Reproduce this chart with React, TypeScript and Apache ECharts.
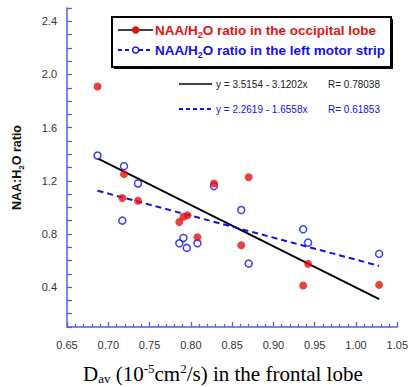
import React, { useEffect, useRef } from "react";
import * as echarts from "echarts";

// D_av (frontal lobe) vs NAA/H2O ratio
const occipitalX = [0.687, 0.719, 0.717, 0.736, 0.786, 0.791, 0.796, 0.808, 0.828, 0.870, 0.861, 0.942, 0.936, 1.028];
const occipitalY = [1.91, 1.25, 1.07, 1.05, 0.89, 0.93, 0.94, 0.775, 1.18, 1.227, 0.715, 0.575, 0.412, 0.417];
const motorX = [0.687, 0.719, 0.736, 0.717, 0.786, 0.791, 0.795, 0.808, 0.828, 0.861, 0.870, 0.936, 0.942, 1.028];
const motorY = [1.39, 1.31, 1.18, 0.90, 0.73, 0.77, 0.695, 0.73, 1.16, 0.98, 0.577, 0.835, 0.735, 0.65];
// regression line end points
const fitOccX = [0.687, 1.028];
const fitOccY = [1.368, 0.31];
const fitMotX = [0.687, 1.028];
const fitMotY = [1.125, 0.56];

const legendLabels = ["NAA/H|2|O ratio in the occipital lobe", "NAA/H|2|O ratio in the left motor strip"];
const eqTexts = ["y = 3.5154 - 3.1202x", "y = 2.2619 - 1.6558x"];
const rTexts = ["R= 0.78038", "R= 0.61853"];

const RED = "#e51212";
const BLUE = "#1212e6";
const AXIS = "#5b5be8";

const pairs = (xs: number[], ys: number[]) => xs.map((x, i) => [x, ys[i]]);

function richLabel(s: string) {
  const [a, b, c] = s.split("|");
  return `{n|${a}}{s|${b}}{n|${c}}`;
}

export default function App() {
  const ref = useRef<HTMLDivElement>(null);
  useEffect(() => {
    document.body.style.margin = "0";
    const chart = echarts.init(ref.current!, null, { renderer: "svg" });
    const legendFont = (color: string) => ({
      n: { fontFamily: "Arial, 'Liberation Sans'", fontWeight: "bold", fontSize: 13.5, fill: color, color },
      s: { fontFamily: "Arial, 'Liberation Sans'", fontWeight: "bold", fontSize: 9, fill: color, color, padding: [9, 0, 0, 0] },
    });
    chart.setOption({
      animation: false,
      grid: { left: 67, right: 8, top: 8, bottom: 60 },
      xAxis: {
        type: "value",
        min: 0.65,
        max: 1.05,
        interval: 0.05,
        axisLine: { lineStyle: { color: AXIS, width: 1.5 } },
        axisTick: { inside: true, length: 5, lineStyle: { color: AXIS, width: 1.3 } },
        minorTick: { show: true, splitNumber: 5, length: 3, lineStyle: { color: AXIS, width: 1.2 } },
        splitLine: { show: false },
        axisLabel: {
          formatter: (v: number) => v.toFixed(2),
          fontFamily: "Arial, 'Liberation Sans'",
          fontSize: 11,
          color: "#333",
          margin: 12,
        },
      },
      yAxis: {
        type: "value",
        min: 0.1,
        max: 2.5,
        interval: 0.1,
        name: "{n|NAA:H}{s|2}{n|O ratio}",
        nameLocation: "middle",
        nameRotate: 90,
        nameGap: 42,
        nameTextStyle: {
          rich: {
            n: { fontFamily: "Arial, 'Liberation Sans'", fontWeight: "bold", fontSize: 12.5, color: "#111" },
            s: { fontFamily: "Arial, 'Liberation Sans'", fontWeight: "bold", fontSize: 8, color: "#111", padding: [8, 0, 0, 0] },
          },
        },
        axisLine: { show: true, lineStyle: { color: AXIS, width: 1.5 } },
        axisTick: { inside: true, length: 5, lineStyle: { color: AXIS, width: 1.3 } },
        splitLine: { show: false },
        axisLabel: {
          formatter: (v: number) => {
            const k = Math.round(v * 10);
            return k % 4 === 0 ? (k / 10).toFixed(1) : "";
          },
          fontFamily: "Arial, 'Liberation Sans'",
          fontSize: 11,
          color: "#333",
          margin: 10,
        },
      },
      series: [
        {
          type: "line",
          data: pairs(fitOccX, fitOccY),
          showSymbol: false,
          lineStyle: { color: "#000", width: 2 },
          z: 2,
        },
        {
          type: "line",
          data: pairs(fitMotX, fitMotY),
          showSymbol: false,
          lineStyle: { color: BLUE, width: 2, type: [6, 4] },
          z: 2,
        },
        {
          type: "scatter",
          data: pairs(motorX, motorY),
          symbol: "circle",
          symbolSize: 7,
          itemStyle: { color: "#fff", borderColor: BLUE, borderWidth: 1.5 },
          z: 3,
        },
        {
          type: "scatter",
          data: pairs(occipitalX, occipitalY),
          symbol: "circle",
          symbolSize: 8,
          itemStyle: { color: RED },
          z: 4,
        },
      ],
      graphic: [
        { type: "rect", shape: { x: 114, y: 19, width: 279, height: 50 }, style: { fill: "#000" }, z: 10 },
        { type: "rect", shape: { x: 112, y: 17, width: 279, height: 50 }, style: { fill: "#fff", stroke: "#000", lineWidth: 2 }, z: 11 },
        { type: "line", shape: { x1: 118, y1: 30, x2: 153, y2: 30 }, style: { stroke: "#000", lineWidth: 1.5 }, z: 12 },
        { type: "circle", shape: { cx: 135.7, cy: 30, r: 3.8 }, style: { fill: RED }, z: 13 },
        { type: "line", shape: { x1: 118, y1: 50, x2: 153, y2: 50 }, style: { stroke: BLUE, lineWidth: 1.8, lineDash: [4, 3] }, z: 12 },
        { type: "circle", shape: { cx: 135.7, cy: 50, r: 3 }, style: { fill: "#fff", stroke: BLUE, lineWidth: 1.5 }, z: 13 },
        {
          type: "text",
          x: 155,
          y: 30,
          style: { text: richLabel(legendLabels[0]), rich: legendFont(RED), textVerticalAlign: "middle", textAlign: "left" },
          z: 13,
        },
        {
          type: "text",
          x: 155,
          y: 50,
          style: { text: richLabel(legendLabels[1]), rich: legendFont(BLUE), textVerticalAlign: "middle", textAlign: "left" },
          z: 13,
        },
        { type: "line", shape: { x1: 179, y1: 84, x2: 212, y2: 84 }, style: { stroke: "#000", lineWidth: 1.5 }, z: 12 },
        {
          type: "text", x: 216, y: 84,
          style: { text: eqTexts[0], font: "10px Arial, 'Liberation Sans'", fill: "#222", textVerticalAlign: "middle" }, z: 12,
        },
        {
          type: "text", x: 328, y: 84,
          style: { text: rTexts[0], font: "10px Arial, 'Liberation Sans'", fill: "#222", textVerticalAlign: "middle" }, z: 12,
        },
        { type: "line", shape: { x1: 179, y1: 109, x2: 212, y2: 109 }, style: { stroke: BLUE, lineWidth: 1.8, lineDash: [4, 3] }, z: 12 },
        {
          type: "text", x: 216, y: 109,
          style: { text: eqTexts[1], font: "10px Arial, 'Liberation Sans'", fill: BLUE, textVerticalAlign: "middle" }, z: 12,
        },
        {
          type: "text", x: 328, y: 109,
          style: { text: rTexts[1], font: "10px Arial, 'Liberation Sans'", fill: BLUE, textVerticalAlign: "middle" }, z: 12,
        },
        {
          type: "text",
          x: 83,
          y: 374,
          style: {
            text: "{m|D}{sb|av}{m| (10}{sp|-5}{m|cm}{sp|2}{m|/s) in the frontal lobe}",
            textVerticalAlign: "middle",
            textAlign: "left",
            rich: {
              m: { fontFamily: "'Liberation Serif', 'Times New Roman', serif", fontSize: 21, fill: "#000", color: "#000" },
              sb: { fontFamily: "'Liberation Serif', 'Times New Roman', serif", fontSize: 13, fill: "#000", color: "#000", padding: [9, 0, 0, 0] },
              sp: { fontFamily: "'Liberation Serif', 'Times New Roman', serif", fontSize: 13, fill: "#000", color: "#000", padding: [0, 0, 12, 0] },
            },
          },
        },
      ],
    });
    return () => chart.dispose();
  }, []);
  return <div ref={ref} style={{ width: 411, height: 387 }} />;
}
